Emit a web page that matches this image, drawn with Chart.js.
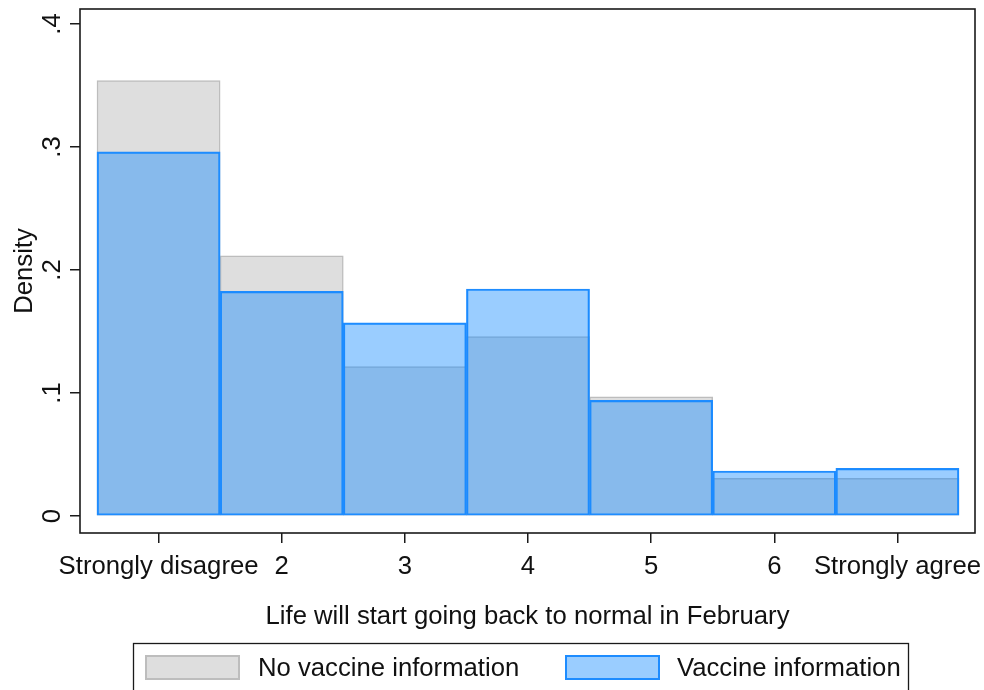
<!DOCTYPE html>
<html>
<head>
<meta charset="utf-8">
<script src="https://cdn.jsdelivr.net/npm/chart.js@4.4.1/dist/chart.umd.min.js"></script>
<style>
  html, body { margin: 0; padding: 0; background: #fff; }
  #wrap { width: 984px; height: 690px; }
</style>
</head>
<body>
<div id="wrap"><canvas id="chart" width="984" height="690"></canvas></div>
<script>
// histogram bins (response 1..7) and density per group
const bins = [1, 2, 3, 4, 5, 6, 7];
const binLabels = ['Strongly disagree', '2', '3', '4', '5', '6', 'Strongly agree'];
const noVaccine = [0.354, 0.2116, 0.1214, 0.1458, 0.097, 0.0306, 0.0306];
const vaccine = [0.296, 0.1827, 0.157, 0.1846, 0.0940, 0.0366, 0.0388];
const yTicks = [0, 0.1, 0.2, 0.3, 0.4];
const yTickLabels = ['0', '.1', '.2', '.3', '.4'];
const seriesNames = ['No vaccine information', 'Vaccine information'];

const FONT = '"Liberation Sans", Arial, sans-serif';
const FS = 25.7;
const greyFill = '#dedede', greyLine = '#bdbdbd';
const blueFill = 'rgba(14, 135, 255, 0.42)', blueLine = '#1e8cff';

// frame + rotated y labels + boxed legend
const extras = {
    id: 'extras',
    afterDraw(chart) {
        const ctx = chart.ctx;
        const a = chart.chartArea;
        const y = chart.scales.y;
        ctx.save();
        ctx.strokeStyle = '#1a1a1a';
        ctx.lineWidth = 1.6;
        ctx.strokeRect(a.left, a.top, a.right - a.left, a.bottom - a.top);

        ctx.fillStyle = '#111';
        ctx.font = FS + 'px ' + FONT;
        ctx.textAlign = 'center';
        ctx.textBaseline = 'middle';
        yTicks.forEach((v, i) => {
            ctx.save();
            ctx.translate(53, y.getPixelForValue(v));
            ctx.rotate(-Math.PI / 2);
            ctx.fillText(yTickLabels[i], 0, 0);
            ctx.restore();
        });

        // legend
        ctx.strokeStyle = '#1a1a1a';
        ctx.lineWidth = 1.3;
        ctx.strokeRect(133.5, 643.5, 775, 60);
        const items = [
            {x: 145, tx: 258, fill: greyFill, line: greyLine},
            {x: 565, tx: 677, fill: blueFill, line: blueLine}
        ];
        items.forEach((it, i) => {
            ctx.fillStyle = it.fill;
            ctx.fillRect(it.x, 655, 95, 25);
            ctx.strokeStyle = it.line;
            ctx.lineWidth = 2;
            ctx.strokeRect(it.x + 1, 656, 93, 23);
            ctx.fillStyle = '#111';
            ctx.textAlign = 'left';
            ctx.fillText(seriesNames[i], it.tx, 669);
        });
        ctx.restore();
    }
};

const ctx = document.getElementById('chart').getContext('2d');
const myChart = new Chart(ctx, {
    type: 'bar',
    data: {
        datasets: [{
            label: seriesNames[0],
            data: bins.map((b, i) => ({x: b, y: noVaccine[i]})),
            backgroundColor: greyFill,
            borderColor: greyLine,
            borderWidth: 1.5,
            borderSkipped: false,
            order: 2
        },
        {
            label: seriesNames[1],
            data: bins.map((b, i) => ({x: b, y: vaccine[i]})),
            backgroundColor: blueFill,
            borderColor: blueLine,
            borderWidth: 1.5,
            borderSkipped: false,
            order: 1
        }]
    },
    options: {
        responsive: false,
        animation: false,
        grouped: false,
        barPercentage: 1,
        categoryPercentage: 1,
        layout: { padding: { top: 9, right: 9, left: 0, bottom: 0 } },
        plugins: {
            legend: { display: false },
            tooltip: { enabled: false }
        },
        scales: {
            x: {
                type: 'linear',
                offset: false,
                min: 0.362,
                max: 7.63,
                afterBuildTicks: s => { s.ticks = bins.map(v => ({value: v})); },
                afterFit: s => { s.height = 157; s.paddingLeft = 0; s.paddingRight = 0; },
                grid: { offset: false, drawOnChartArea: false, drawTicks: true, tickLength: 10, color: '#1a1a1a', lineWidth: 1.5 },
                border: { display: false },
                ticks: {
                    padding: 8,
                    color: '#111',
                    font: { family: FONT, size: FS },
                    maxRotation: 0,
                    autoSkip: false,
                    callback: v => binLabels[bins.indexOf(v)]
                },
                title: {
                    display: true,
                    text: 'Life will start going back to normal in February',
                    color: '#111',
                    font: { family: FONT, size: FS },
                    padding: { top: 0, bottom: 58 }
                }
            },
            y: {
                min: -0.0138,
                max: 0.4122,
                afterBuildTicks: s => { s.ticks = yTicks.map(v => ({value: v})); },
                afterFit: s => { s.width = 80; s.paddingTop = 0; s.paddingBottom = 0; },
                grid: { drawOnChartArea: false, drawTicks: true, tickLength: 10, color: '#1a1a1a', lineWidth: 1.5 },
                border: { display: false },
                ticks: { display: false },
                title: {
                    display: true,
                    text: 'Density',
                    color: '#111',
                    font: { family: FONT, size: FS },
                    padding: { top: 9, bottom: 0 }
                }
            }
        }
    },
    plugins: [extras]
});
</script>
</body>
</html>
